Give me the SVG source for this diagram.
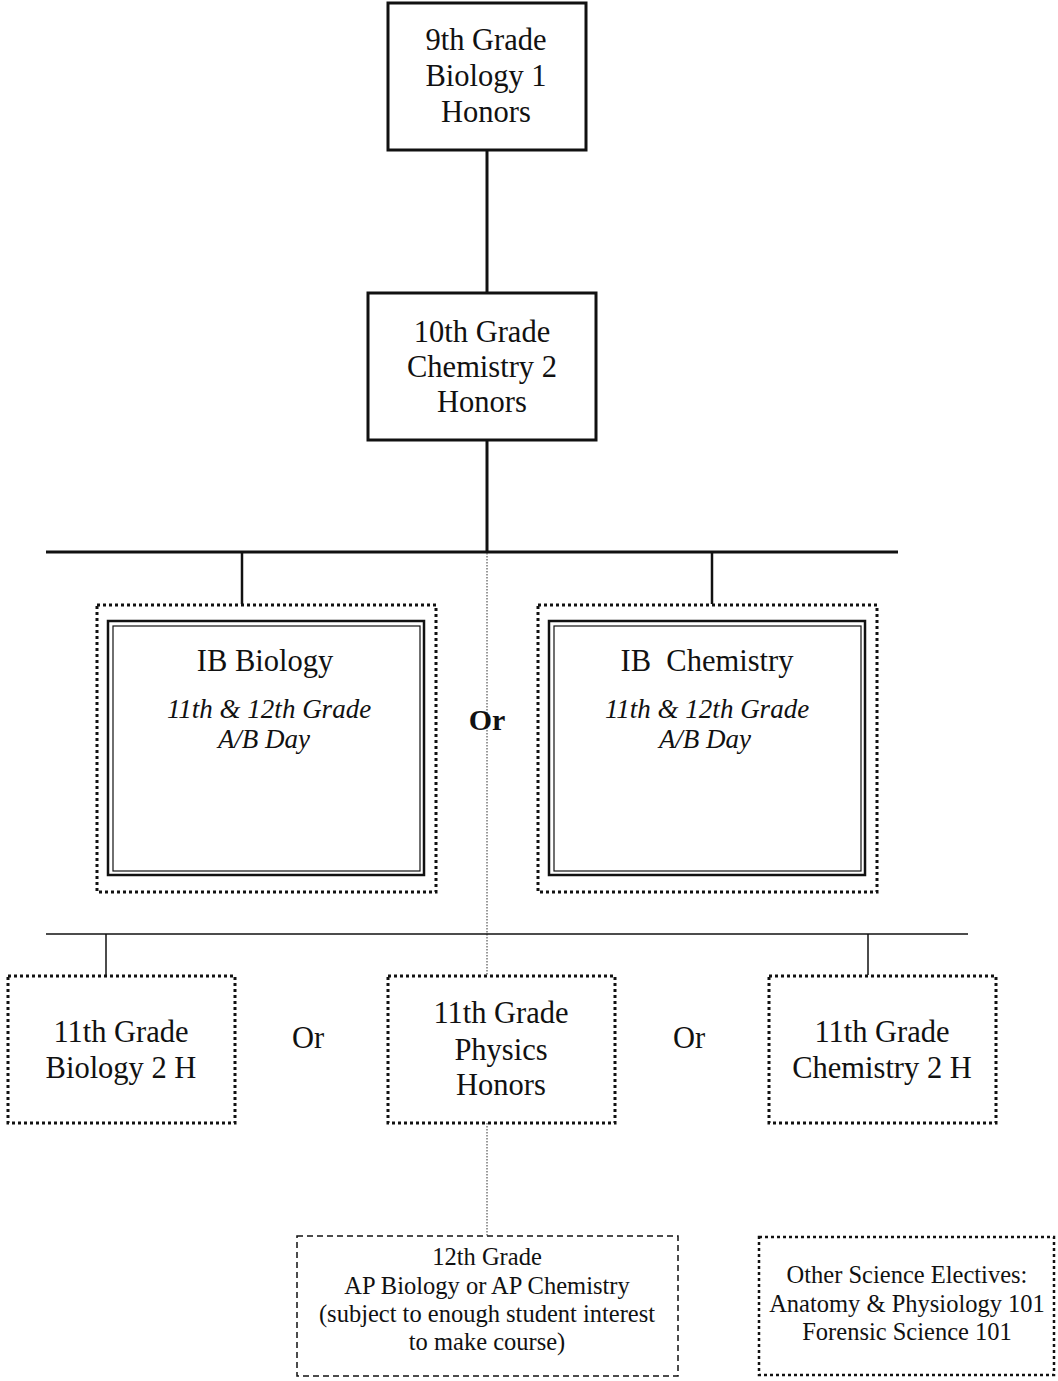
<svg xmlns="http://www.w3.org/2000/svg" width="1058" height="1381" viewBox="0 0 1058 1381">
<style>
text{font-family:"Liberation Serif","Times New Roman",serif;fill:#111;text-anchor:middle}
.t{font-size:30.5px}
.i{font-size:27px;font-style:italic}
.s{font-size:24.5px}
.solid{fill:#fff;stroke:#111;stroke-width:3}
.dot{fill:#fff;stroke:#111;stroke-width:3;stroke-dasharray:3 3}
.dash{fill:#fff;stroke:#111;stroke-width:1.5;stroke-dasharray:6 4}
.dbl{fill:none;stroke:#111}
.ln{stroke:#111;fill:none}
.fine{stroke:#333;stroke-width:1;stroke-dasharray:1.5 1.5;fill:none}
</style>
<rect width="1058" height="1381" fill="#fff"/>
<g id="connectors">
<line class="ln" x1="487" y1="150" x2="487" y2="293" stroke-width="3"/>
<line class="ln" x1="487" y1="440" x2="487" y2="552" stroke-width="3"/>
<line class="ln" x1="46" y1="552" x2="898" y2="552" stroke-width="3"/>
<line class="ln" x1="242" y1="552" x2="242" y2="604" stroke-width="2.5"/>
<line class="ln" x1="712" y1="552" x2="712" y2="604" stroke-width="2.5"/>
<line class="fine" x1="487" y1="553" x2="487" y2="975"/>
<line class="ln" x1="46" y1="934" x2="968" y2="934" stroke-width="1.5"/>
<line class="ln" x1="106" y1="934" x2="106" y2="975" stroke-width="1.5"/>
<line class="ln" x1="868" y1="934" x2="868" y2="975" stroke-width="1.5"/>
<line class="fine" x1="487" y1="1123" x2="487" y2="1236"/>
</g>
<g id="n9">
<rect class="solid" x="388" y="3" width="198" height="147"/>
<text class="t" x="486" y="50">9th Grade</text>
<text class="t" x="486" y="86">Biology 1</text>
<text class="t" x="486" y="122">Honors</text>
</g>
<g id="n10">
<rect class="solid" x="368" y="293" width="228" height="147"/>
<text class="t" x="482" y="342">10th Grade</text>
<text class="t" x="482" y="377">Chemistry 2</text>
<text class="t" x="482" y="412">Honors</text>
</g>
<g id="ibbio">
<rect class="dot" x="97" y="605" width="339" height="287"/>
<rect class="dbl" x="108" y="621" width="316" height="254" stroke-width="2.5"/>
<rect class="dbl" x="113" y="626" width="307" height="245" stroke-width="1.2"/>
<text class="t" x="265" y="671">IB Biology</text>
<text class="i" x="269" y="718">11th &amp; 12th Grade</text>
<text class="i" x="264" y="748">A/B Day</text>
</g>
<g id="or-main">
<text x="487" y="730" style="font-size:30px;font-weight:bold">Or</text>
</g>
<g id="ibchem">
<rect class="dot" x="538" y="605" width="339" height="287"/>
<rect class="dbl" x="549" y="621" width="316" height="254" stroke-width="2.5"/>
<rect class="dbl" x="554" y="626" width="307" height="245" stroke-width="1.2"/>
<text class="t" x="707" y="671" xml:space="preserve">IB  Chemistry</text>
<text class="i" x="707" y="718">11th &amp; 12th Grade</text>
<text class="i" x="705" y="748">A/B Day</text>
</g>
<g id="bio2h">
<rect class="dot" x="8" y="976" width="227" height="147"/>
<text class="t" x="121" y="1042">11th Grade</text>
<text class="t" x="121" y="1078">Biology 2 H</text>
</g>
<g id="or1"><text class="t" x="308" y="1048">Or</text></g>
<g id="phys">
<rect class="dot" x="388" y="976" width="227" height="147"/>
<text class="t" x="501" y="1023">11th Grade</text>
<text class="t" x="501" y="1060">Physics</text>
<text class="t" x="501" y="1095">Honors</text>
</g>
<g id="or2"><text class="t" x="689" y="1048">Or</text></g>
<g id="chem2h">
<rect class="dot" x="769" y="976" width="227" height="147"/>
<text class="t" x="882" y="1042">11th Grade</text>
<text class="t" x="882" y="1078">Chemistry 2 H</text>
</g>
<g id="ap">
<rect class="dash" x="297" y="1236" width="381" height="140"/>
<text class="s" x="487" y="1265">12th Grade</text>
<text class="s" x="487" y="1294">AP Biology or AP Chemistry</text>
<text class="s" x="487" y="1322">(subject to enough student interest</text>
<text class="s" x="487" y="1350">to make course)</text>
</g>
<g id="electives">
<rect class="dot" x="759" y="1237" width="295" height="138" style="stroke-width:2.5"/>
<text class="s" x="907" y="1283">Other Science Electives:</text>
<text class="s" x="907" y="1312">Anatomy &amp; Physiology 101</text>
<text class="s" x="907" y="1340">Forensic Science 101</text>
</g>
</svg>
